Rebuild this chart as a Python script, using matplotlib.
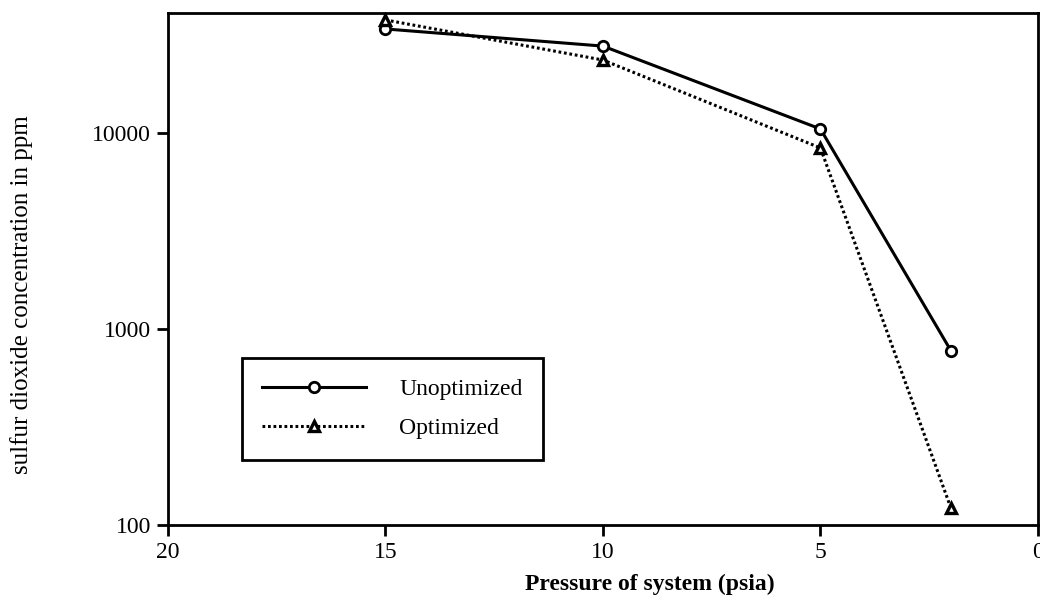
import matplotlib
matplotlib.use("Agg")
import matplotlib.pyplot as plt
from matplotlib.patches import Rectangle
from matplotlib.ticker import FixedLocator, NullLocator

# data
pressure = [15, 10, 5, 2]
unoptimized = [34000, 27800, 10500, 775]
optimized = [37800, 23600, 8400, 122]

x_ticks = [20, 15, 10, 5, 0]
y_ticks = [100, 1000, 10000]

plt.rcParams["font.family"] = ["Liberation Serif", "DejaVu Serif"]
plt.rcParams["font.size"] = 16

fig = plt.figure(figsize=(10.4, 6.06), dpi=100)
ax = fig.add_axes([0.1615, 0.1337, 0.8365, 0.8448])

ax.plot(pressure, unoptimized, color="black", lw=2.2, ls="-",
        marker="o", ms=7.5, mfc="white", mec="black", mew=2.0,
        label="Unoptimized", clip_on=False, zorder=3)
ax.plot(pressure, optimized, color="black", lw=2.2, ls=(0, (0.9, 0.9)),
        marker="^", ms=7.5, mfc="white", mec="black", mew=2.4,
        label="Optimized", clip_on=False, zorder=3)

ax.set_yscale("log")
ax.set_xlim(20, 0)
ax.set_ylim(100, 41000)
ax.xaxis.set_major_locator(FixedLocator(x_ticks))
ax.yaxis.set_major_locator(FixedLocator(y_ticks))
ax.yaxis.set_minor_locator(NullLocator())
ax.set_xticklabels([str(t) for t in x_ticks])
ax.set_yticklabels([str(t) for t in y_ticks])

for s in ax.spines.values():
    s.set_linewidth(2.0)
ax.tick_params(direction="out", length=8, width=2.0, labelsize=17, pad=4)

ax.set_xlabel("Pressure of system (psia)", fontweight="bold", fontsize=17)
ax.xaxis.set_label_coords(0.554, -0.096)
ax.set_ylabel("sulfur dioxide concentration in ppm", fontsize=18)
ax.yaxis.set_label_coords(-0.155, 0.449)

# legend with a square black frame
ax.add_patch(Rectangle((0.085, 0.127), 0.346, 0.199, transform=ax.transAxes,
                       fill=False, edgecolor="black", lw=2.0, zorder=4))
ax.legend(loc="center", bbox_to_anchor=(0.085, 0.127, 0.346, 0.199),
          frameon=False, handlelength=4.4, handletextpad=1.4,
          labelspacing=0.75, fontsize=17)

fig.savefig("out.png", dpi=100)
